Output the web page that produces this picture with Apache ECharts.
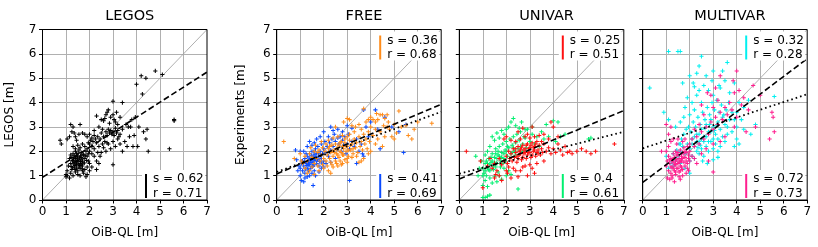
<!DOCTYPE html>
<html><head><meta charset="utf-8">
<script src="https://cdn.jsdelivr.net/npm/echarts@6/dist/echarts.min.js"></script>
<style>html,body{margin:0;padding:0;background:#fff}#c{width:818px;height:247px}</style>
</head><body><div id="c"></div>
<script>
const panelTitles = ['LEGOS','FREE','UNIVAR','MULTIVAR'];
const yNames = ['LEGOS [m]','Experiments [m]','',''];
const xName = 'OiB-QL [m]';
const tickLabels = ['0','1','2','3','4','5','6','7'];
const colors = {legos:'#000000', freeA:'#ff8c1a', freeB:'#0a4bff', uniA:'#ff1010', uniB:'#00f070', multiA:'#00f0f0', multiB:'#ff1f8f'};

const legosPts = [[1.2,1.5],[1.3,1.6],[1.4,1.7],[1.5,1.8],[1.6,1.5],[1.7,1.6],[1.35,1.35],[1.45,1.45],[1.55,1.65],[1.65,1.75],[1.25,1.25],[1.3,1.9],[1.4,2.0],[1.5,1.2],[1.6,1.3],[1.7,1.4],[1.8,1.7],[1.9,1.8],[1.2,1.1],[1.3,1.0],[1.4,1.15],[1.5,1.05],[1.6,1.0],[1.75,1.1],[1.85,0.95],[1.15,1.7],[1.1,1.4],[1.05,1.2],[1.0,1.05],[1.2,1.85],[1.35,1.55],[1.45,1.9],[1.55,2.05],[1.65,1.95],[1.75,1.85],[1.85,2.0],[1.95,1.9],[1.6,2.15],[1.5,2.25],[1.4,2.1],[1.3,2.2],[1.7,2.3],[1.8,2.2],[1.9,2.1],[2.0,2.0],[1.95,1.6],[2.0,1.5],[1.9,1.35],[1.8,1.25],[1.7,1.2],[1.45,1.3],[1.38,1.42],[1.52,1.48],[1.62,1.58],[1.28,1.62],[1.42,1.78],[1.58,1.72],[1.48,1.62],[1.33,1.48],[1.22,1.38],[1.68,1.68],[1.78,1.52],[1.88,1.62],[1.25,1.75],[1.55,1.35],[1.65,1.45],[1.35,1.82],[1.45,1.58],[1.52,1.92],[1.72,1.88],
[1.2,3.1],[1.3,3.0],[1.25,2.8],[1.4,2.6],[1.35,2.75],[1.55,2.7],[1.6,3.1],[1.7,2.75],[1.8,2.7],[1.9,2.6],[1.45,2.45],[1.15,2.6],[1.05,2.5],[2.0,2.7],[2.1,2.55],[2.2,2.85],[2.3,3.45],[2.5,3.3],[2.6,3.25],[2.4,3.0],[2.55,2.9],[2.7,3.5],[2.75,3.6],[2.8,3.7],[2.65,3.35],[2.9,3.4],[3.0,3.5],[3.05,3.3],[3.1,3.2],[3.15,3.6],[3.0,4.05],[3.4,4.0],[3.2,3.1],[3.3,3.4],[2.85,3.15],
[2.0,2.3],[2.1,2.2],[2.15,2.4],[2.2,2.1],[2.25,2.5],[2.3,2.35],[2.35,2.6],[2.4,2.2],[2.45,2.5],[2.5,2.75],[2.6,2.6],[2.65,2.4],[2.7,2.8],[2.75,2.65],[2.8,2.9],[2.85,2.75],[2.9,2.85],[2.95,2.7],[3.0,2.8],[3.05,2.65],[3.1,2.95],[3.15,2.75],[3.2,2.85],[3.25,2.6],[3.3,2.7],[2.1,1.9],[2.2,1.8],[2.3,1.6],[2.4,1.5],[2.5,1.95],[2.6,2.15],[2.7,2.0],[2.8,2.3],[2.9,2.1],[3.0,2.4],[3.1,2.2],[3.2,2.5],[2.2,2.65],[2.05,2.45],[2.35,1.95],[2.55,2.3],[1.95,2.35],[2.45,1.8],[2.75,2.35],[3.3,2.3],[3.4,2.0],[3.5,2.4],[3.6,2.2],[3.7,2.6],[3.75,3.0],[3.9,2.65],[3.4,2.9],[3.55,3.1],[3.65,3.0],[3.8,3.3],[3.0,1.45],[2.0,1.2],[2.1,1.35],[2.3,1.25],[1.9,1.05],
[0.75,2.45],[0.8,2.3],[4.0,4.75],[4.2,5.1],[4.4,5.0],[4.8,5.3],[5.1,5.15],[4.25,4.35],[5.6,3.3],[5.6,3.25],[5.4,2.1],[4.5,2.0],[4.4,2.5],[4.3,2.8],[4.45,2.9],[4.05,2.2],[4.1,3.0],[3.85,2.2],[3.95,3.4],[1.0,0.95],[1.15,0.9],[1.05,1.0],
[1.32,1.68],[1.42,1.52],[1.58,1.42],[1.62,1.82],[1.72,1.52],[1.82,1.82],[1.28,1.32],[1.48,1.72],[1.38,1.25],[1.68,1.28]];

const freeBluePts = [[1.0,1.3],[1.05,1.5],[1.1,1.2],[1.1,1.6],[1.15,1.4],[1.2,1.7],[1.2,1.1],[1.25,1.5],[1.3,1.3],[1.3,1.8],[1.35,1.6],[1.35,1.2],[1.4,1.45],[1.4,1.9],[1.45,1.7],[1.45,1.3],[1.5,1.55],[1.5,2.0],[1.55,1.4],[1.55,1.8],[1.6,1.6],[1.6,1.2],[1.65,1.75],[1.65,2.1],[1.7,1.5],[1.7,1.9],[1.75,1.65],[1.75,2.2],[1.8,1.8],[1.8,1.4],[1.85,2.0],[1.9,1.7],[1.9,2.3],[1.95,1.9],[2.0,2.1],[2.0,1.6],[2.05,2.4],[2.1,1.95],[2.15,2.2],[2.2,2.6],[2.2,1.8],[2.25,2.35],[2.3,2.05],[2.35,2.5],[2.4,2.2],[2.45,2.7],[2.5,2.4],[2.55,2.1],[2.6,2.55],[2.65,2.3],[2.7,2.6],[2.75,2.0],[2.8,2.45],[2.85,2.25],[2.9,2.6],[2.95,1.9],[3.0,2.3],[3.05,2.7],[3.1,2.1],[3.2,2.4],[3.3,2.2],[3.4,2.5],[3.5,2.0],[3.6,2.3],[3.7,1.8],
[1.25,1.9],[1.15,2.0],[1.3,2.2],[1.4,2.4],[1.6,2.35],[1.5,2.25],[1.7,2.5],[1.85,2.6],[2.0,2.8],[2.3,3.0],[2.6,2.9],[2.8,2.8],[3.0,3.05],[3.2,2.95],[2.4,2.85],
[1.0,1.0],[1.05,0.8],[1.15,0.75],[1.3,0.95],[1.4,1.0],[1.55,0.6],[1.5,1.1],[1.65,1.0],[1.8,1.15],[1.9,1.3],[2.0,1.35],[2.1,1.5],[2.3,1.55],[2.5,1.7],[3.1,0.8],[3.4,1.5],[3.65,1.9],[1.2,0.9],[0.9,1.2],[0.95,1.4],[0.8,2.05],[1.0,2.0],[0.85,1.65],
[1.35,1.45],[1.45,1.55],[1.55,1.65],[1.6,1.45],[1.42,1.62],[1.52,1.38],[1.28,1.42],[1.38,1.72],[1.48,1.82],[1.62,1.88],[1.72,1.72],[1.82,1.58],[1.92,1.52],[1.22,1.28],[1.32,1.52],[1.18,1.58],[1.58,1.98],[1.68,1.62],[1.78,1.92],[1.88,1.82],
[3.7,3.7],[4.2,3.7],[4.4,2.1],[4.9,3.0],[5.4,1.95],[5.5,3.1],[4.0,3.2],[4.3,2.9],[3.9,2.6],[3.8,3.0],[4.6,3.4],[5.2,2.8]];

const freeOrangePts = [[2.0,1.7],[2.05,2.0],[2.1,1.6],[2.15,1.85],[2.2,2.1],[2.25,1.7],[2.3,1.95],[2.35,2.25],[2.4,1.8],[2.45,2.05],[2.5,1.6],[2.5,2.3],[2.55,1.9],[2.6,2.15],[2.65,1.75],[2.7,2.0],[2.75,2.4],[2.8,1.85],[2.85,2.1],[2.9,1.65],[2.9,2.35],[2.95,2.0],[3.0,2.2],[3.05,1.8],[3.1,2.45],[3.15,2.05],[3.2,2.3],[3.25,1.9],[3.3,2.5],[3.35,2.15],[3.4,2.35],[3.45,1.95],[3.5,2.6],[3.55,2.2],[3.6,2.4],[3.65,2.05],[3.7,2.7],[3.75,2.3],[3.8,2.5],[3.85,2.1],[3.9,2.8],[3.95,2.4],
[2.1,2.3],[2.2,2.45],[2.3,1.55],[2.4,2.55],[2.6,2.6],[2.7,1.6],[2.8,2.65],[3.0,1.7],[3.1,2.7],[3.2,1.75],[3.3,2.8],[3.4,1.8],[2.55,1.5],[2.35,1.45],[2.15,1.4],[2.75,1.45],
[1.2,1.8],[1.3,1.6],[1.4,1.9],[1.5,1.75],[1.6,2.0],[1.7,1.7],[1.75,1.95],[1.8,2.05],[1.85,1.6],[1.9,1.85],[1.95,2.15],[1.6,1.5],[1.5,1.35],[1.4,1.2],[1.3,1.1],[1.2,1.3],[1.1,1.5],[1.0,1.9],[1.05,1.6],[0.75,1.7],[0.3,2.4],[1.65,2.25],[1.45,2.15],[1.9,2.4],[1.75,1.4],[1.95,1.45],
[2.5,3.0],[2.85,3.2],[3.0,3.35],[3.1,3.3],[3.2,3.05],[3.35,3.0],[3.5,3.1],[3.6,2.9],[3.7,3.75],[3.8,3.2],[4.0,3.0],[4.1,3.3],[4.2,3.2],[4.3,3.3],[4.4,3.5],[4.5,3.5],[4.6,3.35],[4.7,3.5],[4.75,3.2],[4.8,2.9],[4.9,2.6],[5.0,3.1],[5.1,2.75],[5.2,3.65],[5.3,3.0],[5.5,3.05],[5.6,2.65],[5.75,2.5],[5.85,2.9],[6.0,3.2],[6.6,3.15],[4.2,2.3],[4.1,2.65],[4.3,2.5],[4.4,2.8],[4.5,2.2],[4.0,2.0],[3.9,1.9],[3.7,1.7],[3.6,1.6],[3.5,1.55],[4.6,2.6],[4.7,3.0],[4.0,3.4],[3.9,3.3],[4.2,2.9],[4.25,3.55],[4.55,3.05],[5.0,2.5],
[2.0,1.3],[2.2,1.2],[2.4,1.35],[2.6,1.4],[2.8,1.5],[3.0,1.55],[2.3,1.1],[1.8,1.2],[1.6,1.05],
[2.45,1.95],[2.55,2.1],[2.65,2.25],[2.75,1.95],[2.85,1.85],[2.95,2.2],[3.05,2.05],[3.15,2.25],[3.25,2.1],[2.35,2.0],[2.25,2.2],[2.6,1.85],[2.7,2.35],[2.9,2.5],[3.0,2.6],[2.8,2.2]];

const uniGreenPts = [[1.0,1.3],[1.05,1.1],[1.1,1.5],[1.15,1.0],[1.2,1.35],[1.25,1.7],[1.3,1.2],[1.35,1.55],[1.4,1.9],[1.45,1.4],[1.5,1.75],[1.55,2.1],[1.6,1.5],[1.65,1.85],[1.7,2.2],[1.75,1.6],[1.8,1.95],[1.85,2.3],[1.9,1.7],[1.95,2.05],[2.0,2.4],[2.05,1.8],[2.1,2.15],[2.15,2.5],[2.2,1.9],[2.25,2.25],[2.3,2.6],[2.35,2.0],[2.4,2.35],[2.45,2.7],[2.5,2.1],[2.55,2.45],[2.6,2.8],[2.7,2.3],[2.8,2.55],[2.9,2.9],[3.0,2.4],[3.1,2.7],[3.2,2.3],[3.3,2.6],[3.5,2.8],[3.7,3.1],[3.6,2.5],[3.8,2.6],[4.0,3.25],[4.2,3.2],[4.3,2.6],[4.1,2.4],
[1.0,0.1],[1.1,0.1],[1.2,0.15],[1.3,0.2],[0.8,1.0],[0.85,1.3],[0.7,1.8],[1.0,0.6],[1.1,0.8],[1.2,0.55],[1.3,0.9],[1.4,0.7],[1.5,0.95],[1.6,0.75],[1.7,1.0],[1.8,0.85],[2.0,1.0],[2.1,1.2],[2.2,1.05],[2.5,0.45],[1.9,1.3],[1.65,1.15],
[2.3,3.35],[2.2,3.2],[2.65,3.2],[2.8,2.9],[3.1,3.0],[2.0,2.9],[1.9,2.7],[1.7,2.55],[1.5,2.45],[1.3,2.2],[1.2,2.0],[1.1,1.85],[0.95,1.6],[1.4,2.6],[1.6,2.75],[1.8,2.85],[2.1,3.0],[2.4,3.05],[2.55,2.95],
[5.5,2.5],[5.6,2.55],[4.5,2.7],
[1.2,1.5],[1.3,1.45],[1.4,1.6],[1.5,1.55],[1.6,1.7],[1.7,1.8],[1.8,1.75],[1.9,1.9],[2.0,2.0],[1.45,1.25],[1.55,1.35],[1.35,1.75],[1.25,1.25],[1.15,1.6],[1.75,1.35],[1.85,1.5],[1.95,1.6],[2.05,2.2],[2.15,1.7],[2.25,1.95],[1.65,2.0],[1.55,1.9],[2.3,2.15],[2.4,1.85],[2.6,2.2],[2.7,2.0],[2.75,2.6],[1.0,1.0],[1.1,1.2],[2.85,2.15],[3.4,2.2]];

const uniRedPts = [[2.0,1.8],[2.05,1.5],[2.1,2.0],[2.15,1.7],[2.2,1.9],[2.25,1.6],[2.3,2.1],[2.35,1.75],[2.4,1.95],[2.45,1.55],[2.5,2.2],[2.55,1.85],[2.6,2.05],[2.65,1.65],[2.7,2.25],[2.75,1.9],[2.8,2.1],[2.85,1.7],[2.9,2.3],[2.95,1.95],[3.0,2.15],[3.05,1.75],[3.1,2.35],[3.15,2.0],[3.2,2.2],[3.25,1.8],[3.3,2.4],[3.35,2.05],[3.4,2.25],[3.45,1.85],[3.5,2.1],[3.55,1.95],[3.6,2.3],[3.7,2.0],[3.8,2.15],[3.9,1.9],[4.0,2.1],[4.1,1.95],[4.2,2.3],[4.3,2.05],[4.4,1.85],[4.5,2.2],[4.6,1.95],[4.7,2.0],[4.8,1.9],[5.0,2.0],[5.2,2.1],[5.4,2.0],[5.6,1.9],[5.8,2.0],[6.6,2.3],[0.3,2.0],
[2.6,2.5],[2.8,2.6],[3.0,2.55],[2.4,2.4],[2.2,2.45],[2.9,2.7],[3.2,2.6],[3.4,2.65],[3.6,2.7],[3.8,2.5],[4.0,3.0],[4.2,2.6],[3.9,3.2],[2.5,2.8],[2.7,2.95],[3.1,3.0],[3.5,2.4],[1.9,2.5],[2.0,2.6],
[1.0,0.5],[0.9,1.6],[1.5,0.9],[1.8,0.8],[2.2,0.9],[2.5,0.95],[2.9,1.0],[3.2,1.1],[1.7,1.0],[2.0,1.2],[2.3,1.3],[2.6,1.2],[2.8,1.4],[3.0,1.45],[3.3,1.5],[3.6,1.6],[1.6,1.2],[1.4,1.3],[1.2,1.4],[1.3,1.7],[1.5,1.5],[1.7,1.7],[1.8,1.45],[1.9,1.6],[2.1,1.35],[2.4,1.2],[2.7,1.35],[3.1,1.3],[1.55,1.05],[2.05,1.1],
[2.5,1.7],[2.6,1.9],[2.7,1.75],[2.8,1.95],[2.9,1.85],[3.0,1.95],[3.1,1.85],[3.2,2.05],[3.3,1.95],[2.4,2.1],[2.55,2.0],[2.65,2.15],[2.75,2.05],[2.85,2.25],[2.95,2.1],[3.05,2.25],[3.15,2.15],[3.25,2.3],[3.35,1.9],[2.45,1.8]];

const multiCyanPts = [[1.5,1.8],[1.6,2.0],[1.7,2.2],[1.8,1.9],[1.9,2.3],[2.0,2.1],[2.1,2.5],[2.2,2.2],[2.3,2.7],[2.4,2.4],[2.5,2.9],[2.6,2.6],[2.7,3.1],[2.8,2.8],[2.9,3.3],[3.0,3.0],[3.1,2.7],[3.2,3.2],[3.3,2.9],[3.4,3.4],[3.5,3.1],[1.55,2.3],[1.65,2.5],[1.75,2.7],[1.85,2.9],[1.95,3.0],[2.05,2.8],[2.15,3.2],[2.25,3.0],[2.35,3.4],[2.45,3.1],[2.55,3.6],[2.65,3.3],[2.75,3.8],[2.85,3.5],[2.95,4.0],[3.05,3.7],[3.15,4.1],[3.25,3.6],[3.35,3.9],[3.45,3.5],[3.55,3.7],[3.65,4.0],[3.7,3.3],[3.8,3.6],
[2.0,1.6],[2.1,1.8],[2.2,1.7],[2.3,2.0],[2.4,1.9],[2.5,2.1],[2.6,1.8],[2.7,2.2],[2.8,2.0],[2.9,2.4],[3.0,2.1],[3.1,2.3],[3.2,2.5],[3.3,2.2],[3.4,2.6],[3.5,2.4],[3.6,2.7],[2.55,1.6],[2.75,1.5],[3.0,1.65],[3.2,1.75],[2.0,1.1],[1.8,1.3],[1.6,1.5],[1.4,1.6],[1.3,1.4],[1.2,1.5],[1.1,1.3],[1.0,1.8],[1.6,2.3],[1.3,1.9],[1.45,2.05],
[1.1,6.1],[1.5,6.1],[1.6,6.1],[2.5,5.9],[3.6,5.65],[2.4,5.5],[2.0,5.1],[2.4,4.5],[2.2,4.65],[2.6,4.7],[2.95,4.9],[3.3,4.6],[3.25,4.7],[0.3,4.6],[0.9,3.6],[1.1,3.3],[1.7,4.8],[1.9,4.2],[1.8,3.8],[2.1,4.0],[2.3,4.3],[2.8,4.5],[3.0,4.3],[3.5,4.9],[3.4,5.3],[3.9,4.8],[3.7,4.4],[4.1,4.0],[4.5,4.1],[5.6,4.25],[4.0,3.6],[4.3,3.8],[1.6,3.2],[1.4,3.0],[2.0,3.5],[1.75,3.4],[2.2,3.7],[2.5,4.0],[3.0,5.3],[2.7,5.1],[2.3,5.2],[2.15,4.8],
[4.0,3.0],[4.3,2.9],[4.0,2.5],[3.9,2.2],[4.6,2.7],[4.1,2.3],[3.2,2.0],[3.8,2.8],[4.2,3.3],[4.8,3.1],[3.6,3.0],[3.9,3.3],
[2.6,2.4],[2.7,2.6],[2.8,2.4],[2.9,2.8],[3.0,2.5],[2.5,2.5],[2.4,2.7],[2.3,2.4],[2.2,2.6],[2.1,2.3],[2.65,2.95],[2.85,3.1],[3.05,2.85],[3.15,3.05],[2.45,2.25],[2.35,2.15]];

const multiPinkPts = [[1.0,1.4],[1.05,1.6],[1.1,1.2],[1.1,1.8],[1.15,1.5],[1.2,1.1],[1.2,1.7],[1.25,1.35],[1.3,1.9],[1.3,1.55],[1.35,1.2],[1.35,1.75],[1.4,1.45],[1.4,2.0],[1.45,1.65],[1.45,1.3],[1.5,1.85],[1.5,1.5],[1.55,1.15],[1.55,1.7],[1.6,2.05],[1.6,1.4],[1.65,1.8],[1.65,1.6],[1.7,1.25],[1.7,1.95],[1.75,1.55],[1.75,2.15],[1.8,1.75],[1.8,1.4],[1.85,1.95],[1.85,1.6],[1.9,2.2],[1.9,1.3],[1.95,1.85],[2.0,2.0],[2.0,1.6],[1.25,1.0],[1.4,1.05],[1.55,0.95],[1.7,1.0],[1.85,1.1],[1.15,0.85],[1.05,0.9],[1.25,0.9],[1.35,0.75],[1.6,0.85],[1.95,1.2],
[1.0,2.0],[0.8,2.0],[1.1,2.2],[1.2,2.4],[1.0,3.1],[1.2,3.0],[1.1,2.7],[1.3,2.5],[1.5,2.5],[1.45,2.3],[1.7,2.4],[1.8,2.5],
[2.0,2.3],[2.1,2.5],[2.2,2.2],[2.3,2.6],[2.4,2.3],[2.5,2.8],[2.6,2.5],[2.7,3.0],[2.8,2.7],[2.9,3.2],[3.0,2.9],[3.1,3.4],[3.2,3.1],[3.3,3.6],[3.4,3.3],[3.5,3.8],[3.6,3.5],[3.7,4.0],[3.8,3.7],[2.2,2.9],[2.4,3.1],[2.6,3.5],[2.5,3.9],[2.9,4.3],[3.3,5.1],[3.0,3.8],[3.2,4.1],[2.3,1.5],[2.8,1.6],[3.0,1.15],[2.5,1.9],[2.7,2.1],[3.0,2.3],[3.3,2.4],[3.5,2.6],[2.1,1.8],[2.2,1.7],
[4.0,5.3],[3.9,4.4],[4.1,4.5],[4.7,4.7],[5.0,4.3],[5.5,3.6],[5.55,3.4],[5.6,2.8],[5.4,2.5],[4.5,3.7],[4.2,3.9],[4.0,3.4],[4.3,4.2],[3.85,4.9],[4.8,3.0],[4.4,2.8],[3.9,3.0],[3.1,4.6],[2.75,4.4],
[1.3,1.3],[1.4,1.6],[1.5,1.3],[1.5,1.95],[1.6,1.6],[1.65,1.35],[1.7,1.7],[1.75,1.9],[1.8,2.0],[1.35,1.45],[1.45,1.85],[1.55,1.55],[1.25,1.6],[1.2,1.35],[1.15,1.65],[1.9,1.5],[1.95,1.7],[1.6,1.2],[1.4,1.15]];

const oneToOne = [[0,0],[7,7]];
const legosFit = [[0,0.93],[7,5.25]];
const freeFitDashed = [[0,1.07],[7,3.93]];
const freeFitDotted = [[0,1.15],[7,3.62]];
const uniFitDashed = [[0,0.86],[7,3.67]];
const uniFitDotted = [[0,1.08],[7,2.8]];
const multiFitDashed = [[0,0.72],[7,5.8]];
const multiFitDotted = [[0,2.12],[7,4.34]];

const statsText = [
  [{s:'0.62', r:'0.71', c:colors.legos, pos:'bottom'}],
  [{s:'0.36', r:'0.68', c:colors.freeA, pos:'top'},{s:'0.41', r:'0.69', c:colors.freeB, pos:'bottom'}],
  [{s:'0.25', r:'0.51', c:colors.uniA, pos:'top'},{s:'0.4', r:'0.61', c:colors.uniB, pos:'bottom'}],
  [{s:'0.32', r:'0.28', c:colors.multiA, pos:'top'},{s:'0.72', r:'0.73', c:colors.multiB, pos:'bottom'}]
];

const FONT = 'DejaVu Sans';
const lefts = [42.5, 276.7, 459.3, 642.7];
const GW = 164.5, TOP = 29.5, GH = 170.5;
const plus = 'path://M-1,-0.24L-0.24,-0.24L-0.24,-1L0.24,-1L0.24,-0.24L1,-0.24L1,0.24L0.24,0.24L0.24,1L-0.24,1L-0.24,0.24L-1,0.24Z';

const grids = [], xAxes = [], yAxes = [], series = [], titles = [], graphics = [];
for (let i = 0; i < 4; i++) {
  grids.push({left: lefts[i], top: TOP, width: GW, height: GH, show: true, borderColor: '#000', borderWidth: 1, backgroundColor: 'transparent', z: 5});
  titles.push({text: panelTitles[i], left: lefts[i] + GW/2, top: 4, textAlign: 'center',
    textStyle: {fontFamily: FONT, fontSize: 14.5, fontWeight: 'normal', color: '#000'}});
  const axisCommon = {min: 0, max: 7, interval: 1,
    axisLine: {show: true, lineStyle: {color: '#000', width: 1}},
    axisTick: {show: true, length: 3.5, inside: false, lineStyle: {color: '#000', width: 1}},
    splitLine: {show: true, showMinLine: false, showMaxLine: false, lineStyle: {color: '#b0b0b0', width: 1}},
    nameTextStyle: {fontFamily: FONT, fontSize: 12, color: '#000'}};
  xAxes.push(Object.assign({}, axisCommon, {type: 'value', gridIndex: i, name: xName, nameLocation: 'middle', nameGap: 27,
    axisLabel: {fontFamily: FONT, fontSize: 12, color: '#000', margin: 6, formatter: v => tickLabels[v]}}));
  yAxes.push(Object.assign({}, axisCommon, {type: 'value', gridIndex: i, name: yNames[i], nameLocation: 'middle', nameGap: 27 + (i===1?3:0),
    axisLabel: {show: i < 2, fontFamily: FONT, fontSize: 12, color: '#000', margin: 6, formatter: v => tickLabels[v]}}));
}

function scatter(i, data, color, z) {
  series.push({type: 'scatter', xAxisIndex: i, yAxisIndex: i, data: data, symbol: plus, symbolSize: 4.2,
    itemStyle: {color: color, opacity: 1}, z: z, silent: true, animation: false});
}
function line(i, data, style, color, width, z) {
  const ls = {color: color, width: width};
  if (style === 'dashed') { ls.type = [6, 3]; }
  if (style === 'dotted') { ls.type = [1.6, 3]; ls.cap = 'butt'; }
  series.push({type: 'line', xAxisIndex: i, yAxisIndex: i, data: data, symbol: 'none', lineStyle: ls, z: z, silent: true, animation: false});
}

line(0, oneToOne, 'solid', '#9a9a9a', 0.8, 2);
scatter(0, legosPts, colors.legos, 3);
line(0, legosFit, 'dashed', '#000', 1.6, 4);

line(1, oneToOne, 'solid', '#9a9a9a', 0.8, 2);
scatter(1, freeBluePts, colors.freeB, 3);
scatter(1, freeOrangePts, colors.freeA, 3);
line(1, freeFitDashed, 'dashed', '#000', 1.6, 4);
line(1, freeFitDotted, 'dotted', '#000', 1.8, 4);

line(2, oneToOne, 'solid', '#9a9a9a', 0.8, 2);
scatter(2, uniGreenPts, colors.uniB, 3);
scatter(2, uniRedPts, colors.uniA, 3);
line(2, uniFitDashed, 'dashed', '#000', 1.6, 4);
line(2, uniFitDotted, 'dotted', '#000', 1.8, 4);

line(3, oneToOne, 'solid', '#9a9a9a', 0.8, 2);
scatter(3, multiCyanPts, colors.multiA, 3);
scatter(3, multiPinkPts, colors.multiB, 3);
line(3, multiFitDashed, 'dashed', '#000', 1.6, 4);
line(3, multiFitDotted, 'dotted', '#000', 1.8, 4);

for (let i = 0; i < 4; i++) {
  statsText[i].forEach(st => {
    const barX = lefts[i] + 103.5;
    const y0 = st.pos === 'top' ? TOP + 5 : TOP + GH - 27;
    graphics.push({type: 'rect', shape: {x: barX - 4, y: y0 - 3, width: GW - 103.5 + 2, height: 29}, style: {fill: '#fff'}, z: 100});
    graphics.push({type: 'line', shape: {x1: barX, y1: y0 + 1, x2: barX, y2: y0 + 25}, style: {stroke: st.c, lineWidth: 2}, z: 101});
    graphics.push({type: 'text', x: barX + 7, y: y0 + 6, style: {text: 's = ' + st.s, fontFamily: FONT, fontSize: 12, fill: '#000', textVerticalAlign: 'middle'}, z: 101});
    graphics.push({type: 'text', x: barX + 7, y: y0 + 20.5, style: {text: 'r = ' + st.r, fontFamily: FONT, fontSize: 12, fill: '#000', textVerticalAlign: 'middle'}, z: 101});
  });
}

const chart = echarts.init(document.getElementById('c'), null, {renderer: 'canvas'});
chart.setOption({
  animation: false,
  backgroundColor: '#fff',
  title: titles,
  grid: grids,
  xAxis: xAxes,
  yAxis: yAxes,
  series: series,
  graphic: graphics
});
</script></body></html>
